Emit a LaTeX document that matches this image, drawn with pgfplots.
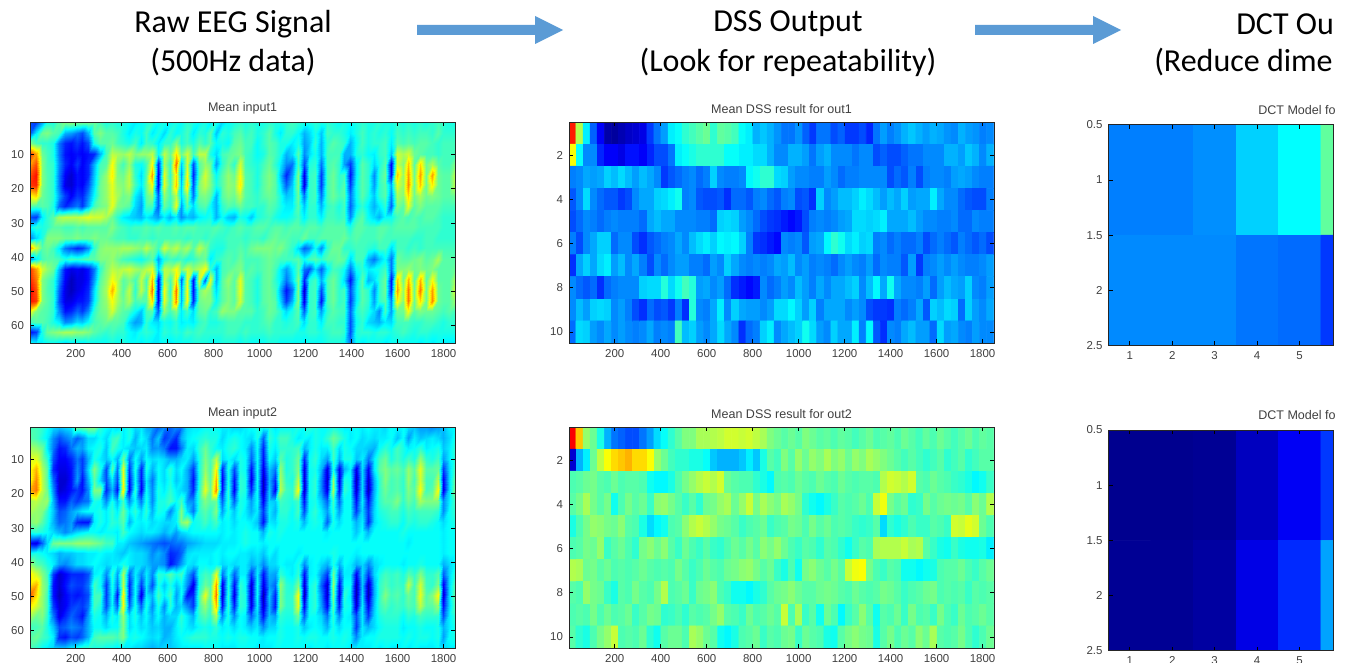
\documentclass[border=0pt]{standalone}
\usepackage{pgfplots}
\usepackage{pgfplotstable}
\usepackage{fontspec}
\setmainfont{Liberation Sans}
\newfontfamily\headfont{Carlito}
\pgfplotsset{compat=1.18}
\definecolor{arrowblue}{HTML}{5B9BD5}
\pgfplotsset{colormap={ejet}{rgb255(0)=(0,0,128) rgb255(1)=(0,0,255) rgb255(3)=(0,255,255) rgb255(5)=(255,255,0) rgb255(7)=(255,0,0) rgb255(8)=(128,0,0)},
 heat/.style={scale only axis,anchor=south west,y dir=reverse,enlargelimits=false,axis on top,tick align=inside,
  point meta min=0,point meta max=100,
  /pgf/number format/assume math mode=true,/pgf/number format/1000 sep={},
  tick label style={font=\fontsize{8.6}{9}\selectfont,text=black!75},
  title style={font=\fontsize{9.4}{10}\selectfont,text=black!75,yshift=-3.5pt},
  axis line style={black!85,line width=.7pt},
  major tick style={black,line width=.6pt},major tick length=3pt,
  xticklabel style={yshift=-1pt},yticklabel style={xshift=-1pt}},
 wide/.style={heat,width=318.75pt,height=165.75pt,xmin=1,xmax=1850,xtick={200,400,...,1800}},
 inp/.style={wide,view={0}{90},ymin=.5,ymax=65,ytick={10,20,...,60}},
 dss/.style={wide,ymin=.5,ymax=10.5,ytick={2,4,...,10}},
 dct/.style={heat,width=168.4pt,height=165.5pt,xmin=.5,xmax=5.79,ymin=.5,ymax=2.5,xtick={1,...,5},ytick={.5,1,1.5,2,2.5},ytick pos=left}}
\pgfplotstableread[header=false]{
20 18 28 40 40 46 50 52 50 50  50 48 44 40 42 40 40 38 36 38  40 42 38 40 38 40 38 42 40 38  40 36 40 34 38 40 42 40 42 40  40 42 40 40 42 44 42 40 40 42  40 42 40 38 40 38 40 42 40 40  42 40 40 42 40 42 40 42 40 42  44 42 40 40
22 36 48 50 46 44 30 28 24 20  30 46 50 46 46 44 40 36 40 38  44 36 40 34 42 38 40 44 36 42  40 46 32 42 40 44 46 42 44 40  42 46 40 36 42 42 38 30 34 40  32 44 42 42 40 36 40 44 40 42  40 42 38 44 42 44 42 44 44 42  46 42 42 42
50 44 42 42 40 24 16 14 18 14  20 40 46 46 48 44 42 40 44 36  44 42 36 42 42 50 40 44 40 46  42 46 38 40 38 46 48 44 44 38  42 46 44 40 40 36 40 28 32 42  30 42 46 44 42 30 38 44 40 42  42 44 36 46 44 46 44 46 46 44  42 44 44 44
82 72 48 44 40 24 14 12 14 12  14 16 30 44 56 54 52 56 50 52  52 56 38 56 48 66 48 58 44 56  56 40 34 44 46 48 50 44 42 38  40 46 44 40 30 34 46 26 34 40  30 44 44 44 30 30 40 42 38 36  42 44 32 58 54 58 48 46 44 44  42 44 44 44
72 80 50 44 42 26 16 12 18 12  16 30 44 46 62 50 44 52 40 38  44 62 16 54 42 76 32 58 20 46  52 48 28 42 48 42 58 44 42 40  44 48 42 36 26 24 44 20 40 42  24 44 46 42 28 18 36 46 42 34  40 46 12 58 50 68 46 66 48 54  46 44 44 50
80 86 50 45 42 24 12 8 14 12  16 32 46 52 64 50 48 56 42 34  46 72 12 60 42 66 28 62 16 46  58 50 38 46 52 48 62 46 44 40  46 50 46 32 16 28 50 10 42 44  18 44 48 42 44 14 36 46 42 26  42 48 14 68 52 72 48 72 48 72  48 46 46 56
82 84 50 45 42 24 10 8 14 12  20 34 48 52 60 52 50 56 44 36  48 62 12 60 44 68 32 66 20 50  56 50 40 46 52 50 64 46 44 40  46 50 46 36 22 32 50 10 42 44  18 44 48 42 46 18 38 46 42 28  42 46 30 60 52 74 48 68 48 64  48 46 46 56
62 66 48 45 42 28 18 12 18 16  26 38 48 52 60 54 48 50 36 30  46 52 22 52 44 56 34 52 24 48  50 46 30 46 50 48 56 46 44 42  46 48 46 40 32 34 48 24 42 44  24 44 48 44 46 24 38 46 40 32  42 46 26 54 50 66 48 54 48 50  48 46 46 48
46 44 46 45 40 22 16 20 24 18  30 44 48 50 60 50 48 46 34 28  44 44 22 48 42 60 28 46 34 44  46 38 30 42 46 44 48 44 44 42  42 46 44 40 36 36 46 32 42 42  30 42 44 40 44 22 36 42 36 30  36 42 22 50 46 60 46 50 46 46  46 44 44 44
20 18 36 42 46 54 56 56 56 58  60 58 58 54 48 42 36 34 32 30  36 32 28 36 30 36 26 32 30 36  38 40 30 38 32 30 40 38 32 40  42 44 40 38 38 40 44 36 42 42  36 44 44 42 44 26 42 46 38 34  30 38 38 44 46 44 46 44 46 46  44 42 42 42
38 42 40 42 46 46 44 44 46 44  46 46 46 46 50 46 44 42 44 44  46 44 46 44 44 46 44 46 46 44  44 44 46 44 42 44 46 44 44 46  46 44 46 46 44 46 46 44 46 46  44 46 46 46 46 40 46 46 44 44  46 46 44 46 46 46 46 44 44 44  44 42 42 42
26 34 40 50 50 50 48 48 50 48  48 50 48 48 46 44 44 42 42 44  44 42 44 44 44 44 44 42 44 44  42 44 42 42 44 44 44 42 44 44  42 46 48 46 46 44 44 48 44 44  46 46 46 46 48 44 46 44 44 44  46 44 44 44 44 44 42 42 44 44  42 42 42 42
72 58 46 48 44 36 24 20 16 18  26 42 50 52 52 52 54 54 52 50  56 50 44 58 52 56 50 54 46 56  50 42 40 40 44 44 46 44 48 50  50 50 48 50 46 42 34 22 26 38  26 42 48 48 42 42 44 44 42 40  44 44 34 44 44 42 44 42 44 44  44 44 44 44
26 36 44 46 46 44 40 44 42 44  46 46 50 50 52 48 44 42 40 38  42 46 28 40 44 42 44 40 42 46  48 36 42 44 46 44 48 44 44 44  46 48 46 44 44 44 46 38 44 46  42 46 46 48 46 34 44 44 30 24  32 38 24 48 46 46 48 50 46 48  54 46 46 46
82 72 58 52 48 30 14 10 12 10  14 24 42 50 56 54 56 58 54 52  56 60 34 56 54 62 50 58 52 56  62 42 30 44 46 48 50 44 46 44  46 48 44 36 28 36 46 24 20 34  22 36 44 42 38 24 38 42 36 38  40 44 24 50 50 52 48 50 48 50  46 46 46 48
84 76 50 46 42 26 12 6 10 10  14 28 46 52 62 56 46 50 44 56  44 70 12 56 44 66 22 60 14 58  22 60 30 46 52 46 60 46 44 40  46 48 42 36 24 34 50 16 40 44  30 44 48 42 34 14 34 46 30 34  42 48 14 68 48 70 46 70 46 62  46 46 46 54
88 80 50 45 42 22 10 6 10 12  16 34 48 54 70 56 46 56 42 56  46 76 10 62 42 76 28 62 14 48  54 50 34 46 50 46 60 46 44 40  46 48 44 30 14 24 50 8 42 44  20 44 48 42 44 20 36 46 42 26  42 48 16 72 52 76 48 76 48 72  48 46 46 58
86 82 50 46 42 20 10 10 14 14  18 36 48 52 62 54 48 54 44 46  46 66 12 60 44 74 30 62 16 48  50 50 38 46 50 46 58 46 44 40  46 48 46 34 18 30 50 10 42 44  14 44 48 42 44 18 36 46 42 28  42 46 26 64 50 76 48 66 48 74  48 46 46 52
62 50 46 45 42 26 14 16 22 18  26 42 48 50 58 50 46 44 38 32  44 46 22 52 44 50 36 44 34 46  48 42 44 52 50 50 46 46 46 42  44 48 46 42 34 40 46 22 42 44  28 42 46 44 44 22 40 44 40 34  26 44 28 48 48 62 46 50 48 48  46 44 46 44
44 46 46 44 40 36 26 28 34 32  38 44 46 48 46 46 44 34 28 30  42 36 34 40 38 42 36 38 36 42  44 40 40 42 44 44 44 42 42 42  44 46 42 42 40 42 44 34 42 42  36 44 44 42 42 20 38 42 34 32  30 36 34 44 44 44 42 42 44 44  42 40 42 42
14 18 40 48 50 52 54 54 52 52  50 46 44 42 44 42 42 38 36 40  42 40 36 42 40 42 40 44 42 44  42 42 42 42 44 44 42 44 42 42  42 44 42 42 42 42 40 40 42 42  40 42 44 44 42 20 40 42 42 40  42 42 40 42 44 42 40 42 42 40  40 40 40 40
38 36 36 38 38 36 34 36 36 36  38 38 38 38 40 38 40 38 38 36  38 36 36 38 36 38 38 38 40 40  40 38 38 40 40 40 38 40 38 38  38 40 40 38 38 38 38 36 38 38  38 40 40 40 38 24 38 36 38 38  38 36 38 38 38 38 38 36 38 36  38 36 36 36
}\inputone
\pgfplotstableread[header=false]{
44 44 42 38 34 32 34 36 48 48  50 50 42 38 36 34 36 40 34 36  30 28 22 26 22 26 24 34 36 36  38 38 38 36 36 34 34 36 38 40  38 40 36 38 38 38 40 38 42 40  38 38 40 38 36 36 38 36 38 36  36 34 38 36 38 34 32 28 28 26  28 30 36 38
46 44 40 36 26 20 24 28 22 26  34 34 38 34 42 44 36 40 30 38  34 24 32 18 22 16 30 36 38 40  42 40 40 34 38 40 38 36 34 40  22 42 38 44 44 40 36 38 36 40  38 42 48 44 40 36 38 34 36 34  36 36 38 32 38 28 36 32 34 36  34 30 34 40
54 52 48 36 24 14 16 24 30 28  36 38 40 32 44 40 36 34 32 34  36 26 28 24 14 14 24 36 34 42  48 42 38 36 40 42 38 36 26 38  16 40 36 42 42 42 44 30 36 40  36 36 44 34 40 38 34 34 32 30  38 42 38 44 40 36 38 42 36 38  40 32 36 42
60 60 50 42 20 12 12 16 24 18  30 40 36 32 38 30 48 24 38 28  38 34 36 34 30 30 34 36 28 40  50 44 56 34 38 34 40 38 22 38  14 38 32 46 40 42 48 16 38 42  34 28 44 30 40 40 32 36 24 36  44 48 40 44 40 44 40 52 42 40  44 28 36 42
62 70 54 46 16 10 10 14 26 18  34 50 40 20 46 24 60 18 40 16  40 30 38 34 42 34 38 30 18 40  52 44 64 16 40 20 40 38 14 38  10 32 24 52 40 42 50 10 38 40  30 10 40 12 30 36 10 34 12 36  46 50 46 48 44 52 46 60 46 46  48 18 34 44
62 74 56 46 22 8 8 14 28 14  30 46 34 20 36 20 62 14 38 14  36 24 38 34 40 32 36 30 14 40  56 46 70 12 40 14 42 40 10 38  6 30 16 54 42 40 56 8 38 42  26 8 52 10 40 38 6 34 8 30  42 50 44 46 42 52 44 58 44 44  56 12 34 48
70 76 56 48 26 8 10 14 18 14  26 50 50 16 30 14 64 12 42 12  38 26 40 36 42 36 34 30 16 42  60 48 74 14 42 12 42 40 16 38  6 32 12 56 44 42 62 8 38 42  26 10 54 14 42 38 8 34 6 30  42 48 44 46 42 50 46 62 44 46  62 10 34 50
54 56 52 52 30 14 14 22 18 22  24 40 38 26 40 30 44 26 38 24  40 26 40 40 44 38 44 28 26 42  50 46 48 22 42 22 40 38 28 38  12 34 32 44 42 40 44 14 38 40  32 22 44 22 38 38 14 36 14 32  42 46 46 50 42 48 44 54 50 50  50 26 36 44
54 52 50 42 32 20 22 28 32 36  38 38 40 36 42 36 48 36 42 34  42 30 40 38 26 36 50 34 24 42  46 42 50 28 40 32 40 36 30 36  18 36 30 42 42 38 44 20 38 42  36 28 42 28 38 38 18 34 18 34  40 42 44 44 40 44 42 44 44 44  42 26 38 42
50 52 46 40 30 22 24 28 16 14  14 36 40 36 42 40 46 30 38 36  38 34 36 34 34 36 50 54 38 40  44 40 44 36 38 34 38 38 36 32  14 36 34 40 40 38 40 30 38 40  38 22 40 34 38 38 30 36 16 34  38 40 42 42 38 42 40 42 42 40  38 34 38 40
40 42 40 38 34 30 26 30 34 36  38 38 36 38 38 36 44 38 36 34  36 36 34 30 34 28 34 36 38 38  38 38 38 36 38 36 38 40 38 38  30 40 38 40 38 38 38 38 38 38  38 36 38 38 38 38 32 38 30 38  38 38 38 38 40 38 38 38 38 38  38 36 38 38
12 10 22 34 48 50 50 50 52 52  52 50 48 44 44 36 36 32 30 28  26 24 22 20 22 24 24 28 30 32  34 34 34 36 36 36 38 40 38 38  36 38 38 38 38 38 38 38 38 38  38 38 38 38 38 38 38 38 38 38  38 38 38 38 38 36 38 38 38 38  38 36 38 38
38 40 38 36 34 30 32 32 34 34  36 36 38 36 36 34 32 36 34 34  32 26 30 26 16 18 22 34 36 36  36 36 38 36 38 38 36 36 34 36  32 38 34 38 38 38 36 38 38 38  38 38 40 38 38 38 36 38 38 38  38 38 38 38 38 38 38 38 38 38  38 36 38 38
52 46 44 40 36 28 26 30 34 34  36 38 36 34 36 36 40 36 34 34  32 28 28 26 14 20 28 36 34 38  38 36 38 34 36 34 36 36 30 34  26 34 34 38 36 36 40 26 36 38  34 30 40 30 38 36 30 34 26 34  36 38 38 38 36 38 38 40 38 38  38 30 34 38
64 58 50 44 18 8 12 16 16 16  20 36 38 26 42 28 54 22 36 26  36 26 42 40 46 40 44 30 20 40  44 42 60 24 38 22 36 36 18 36  14 30 28 42 38 36 42 14 36 38  28 18 48 22 36 36 12 34 18 34  40 44 42 44 40 46 42 50 42 42  46 22 34 42
66 70 52 46 14 8 14 20 18 18  24 44 38 18 40 24 56 16 38 18  36 20 40 32 40 32 38 26 10 40  48 44 72 10 40 14 42 38 8 38  10 28 22 52 42 40 50 8 38 42  22 8 52 12 38 38 6 32 6 30  42 46 42 44 42 56 44 58 44 42  50 12 34 46
78 66 52 44 14 6 12 16 14 16  20 44 44 18 38 14 64 16 38 10  36 30 44 36 44 28 38 14 16 44  60 46 76 8 42 10 42 40 8 38  5 32 16 50 42 42 62 6 38 42  26 8 50 10 42 36 5 34 5 30  42 50 44 46 42 48 44 60 46 50  62 8 34 48
64 58 52 44 18 9 12 18 20 18  24 44 40 20 38 22 62 22 40 22  40 26 40 26 42 30 34 26 18 44  52 44 68 14 42 16 42 40 10 36  8 30 14 50 42 42 60 12 38 42  28 12 46 14 40 38 8 36 12 32  42 46 42 44 42 46 44 56 46 46  52 14 34 46
54 48 50 42 24 10 16 22 18 14  28 40 38 30 40 36 52 34 40 32  38 30 38 30 34 34 42 36 30 42  46 42 54 26 40 26 38 36 22 34  14 32 28 42 40 40 48 22 38 38  34 24 42 26 38 36 20 36 18 34  40 42 42 42 38 42 40 44 42 42  42 20 36 42
44 44 46 40 32 20 22 26 24 22  30 38 38 34 38 38 50 34 38 34  36 32 34 30 30 36 40 36 34 38  40 38 42 36 38 34 38 36 32 36  26 34 34 40 38 38 40 32 36 38  36 30 40 34 38 38 18 36 30 34  38 40 40 40 36 38 38 40 38 38  40 30 36 40
46 48 44 42 36 16 14 20 18 22  30 44 46 46 46 44 50 38 40 38  36 34 36 30 32 36 38 40 42 42  42 40 40 38 40 38 40 40 38 38  36 38 38 40 38 38 40 38 40 40  38 38 40 38 40 38 26 36 38 38  40 40 40 40 38 40 38 40 40 38  40 28 38 40
44 42 38 36 34 32 32 36 40 42  42 40 40 38 38 36 36 36 34 34  32 30 32 34 32 34 36 36 36 36  38 38 38 36 36 36 38 38 38 36  36 36 38 38 38 38 38 38 36 38  38 36 38 38 38 36 36 36 36 38  36 38 36 36 38 36 38 36 36 36  38 34 36 36
}\inputtwo
\pgfplotstableread[header=false]{
85 55 36 22 12 4 3 5 7 8  10 18 24 28 36 38 42 44 46 48  42 47 46 44 38 36 30 32 30 27  24 24 27 22 18 24 24 20 22 18  18 20 16 24 28 25 27 30 32 30  28 30 29 27 26 30 28 27 25 26
62 38 26 26 16 12 12 10 14 14  12 16 20 20 24 36 38 40 42 42  42 42 38 38 36 36 34 34 30 26  26 30 30 28 24 28 30 26 26 26  24 26 26 20 22 20 20 22 24 24  26 26 26 30 30 28 32 30 26 30
25 26 29 28 29 33 31 34 31 28  31 29 26 18 21 23 25 26 23 25  33 26 25 25 26 37 39 42 42 34  33 28 26 26 25 25 28 26 23 25  25 26 26 26 26 20 23 21 25 20  25 26 26 25 28 29 28 26 25 25
21 26 34 26 23 21 21 18 20 26  29 29 33 34 36 39 25 26 21 20  20 21 17 23 23 21 25 26 23 21  25 26 20 21 17 33 26 28 31 31  33 36 34 31 28 31 29 33 28 29  29 36 29 26 26 23 21 20 20 25
20 23 26 25 23 25 26 25 25 25  23 29 31 29 29 26 26 26 25 25  23 33 34 33 28 26 23 20 18 17  15 13 15 20 25 26 25 26 28 29  34 34 33 34 36 29 29 29 31 28  26 26 25 25 26 23 23 26 25 25
25 20 26 29 33 33 23 26 26 20  17 21 23 25 26 29 26 31 34 36  33 37 36 37 33 25 18 17 15 13  26 25 26 21 28 29 37 42 39 34  36 33 34 25 26 23 25 23 23 25  20 23 25 23 21 25 23 21 23 20
17 29 33 29 34 36 28 31 26 29  25 20 26 23 26 28 28 25 25 23  28 26 33 29 26 25 26 25 26 29  28 31 26 28 25 26 25 23 26 28  26 25 28 23 26 25 25 21 28 18  25 26 28 26 28 26 25 25 26 28
26 23 21 23 17 23 25 26 26 26  33 34 34 41 34 39 44 41 28 29  26 28 23 17 15 13 15 26 23 25  28 26 31 28 25 29 26 29 29 31  33 26 31 37 29 39 29 26 26 25  28 23 28 31 29 28 33 26 25 28
26 31 28 33 34 33 26 28 25 20  17 23 20 21 18 25 17 41 26 25  29 36 26 33 29 28 28 26 28 34  34 37 33 28 33 25 29 29 29 26  28 26 20 18 18 17 25 23 25 29  21 33 31 34 33 23 33 28 26 29
23 34 33 28 26 29 26 28 26 25  26 29 25 26 25 44 31 33 28 26  29 34 29 26 17 23 25 33 36 26  29 31 33 39 34 28 26 33 29 29  36 25 37 21 17 26 25 29 31 28  28 23 34 28 29 26 25 28 26 26
}\dssone
\pgfplotstableread[header=false]{
88 68 52 48 40 30 24 22 20 20  24 28 34 38 42 46 50 50 54 54  55 56 58 58 57 58 56 54 50 48  46 48 46 50 48 46 47 45 47 46  44 46 48 45 46 47 45 48 46 44  47 45 48 46 44 46 48 45 47 46
8 30 36 48 56 62 66 68 70 66  66 62 52 48 44 42 42 40 40 38  32 30 30 30 32 36 32 40 46 44  50 46 52 48 52 50 54 50 52 48  52 50 54 52 50 48 46 44 46 44  42 44 46 42 44 46 42 44 46 46
45 46 48 49 46 45 48 45 46 46  45 39 37 37 40 45 49 52 55 57  55 58 48 46 45 45 42 40 37 45  46 45 48 46 45 48 46 45 48 46  45 46 46 45 55 58 57 55 58 46  45 48 46 45 43 42 40 37 39 43
46 49 54 49 46 49 39 45 49 46  48 43 51 52 49 46 43 46 42 48  49 52 54 48 52 57 49 54 51 49  54 52 49 42 39 37 40 43 46 45  46 48 45 57 61 49 46 48 42 43  49 46 48 49 48 49 46 51 48 55
40 45 49 52 51 49 48 51 46 45  40 34 37 39 45 46 51 55 57 55  52 49 48 46 43 45 46 48 43 45  46 49 48 45 49 46 48 45 46 45  43 42 43 46 34 42 40 42 45 43  43 46 45 43 58 57 60 58 48 45
45 46 49 48 52 43 46 48 45 42  49 51 48 51 46 43 48 45 43 46  43 42 45 48 46 49 46 51 49 52  48 45 43 46 45 42 46 45 42 39  43 46 45 54 55 55 55 57 54 55  46 43 40 39 43 40 39 39 40 36
55 54 48 49 46 48 45 46 45 46  48 46 45 46 45 49 46 43 45 48  46 45 48 49 51 52 49 46 48 43  40 45 39 49 51 48 46 49 46 57  61 62 49 45 43 46 45 39 39 37  39 40 45 46 46 48 45 43 46 48
46 45 52 49 48 43 40 46 45 49  46 45 49 55 45 46 48 43 48 49  51 45 43 39 39 37 40 42 46 48  49 51 48 46 46 48 49 48 46 45  48 46 45 46 49 48 46 43 45 46  48 49 45 46 45 46 43 46 45 46
45 46 45 49 45 48 45 46 48 43  46 49 48 42 43 45 42 46 45 46  49 52 46 45 43 48 45 46 48 46  57 45 54 43 46 39 48 45 37 43  46 51 46 39 46 45 48 43 49 45  46 43 49 45 43 48 45 46 48 46
46 42 40 45 49 52 57 45 46 45  48 42 39 46 48 48 45 54 52 48  46 39 37 40 45 46 48 43 46 45  48 49 43 48 46 45 40 39 46 49  51 49 48 40 46 49 45 48 46 51  48 54 46 45 46 49 45 42 45 48
}\dsstwo
% builds the coordinate list of a table: #1 table, #2 rows, #3 cols
\newcommand\collect[5]{%
 \gdef\cbuf{}%
 \pgfmathtruncatemacro\rmax{#2-1}\pgfmathtruncatemacro\cmax{#3-1}%
 \pgfplotsforeachungrouped \r in {0,...,\rmax}{%
  \pgfplotsforeachungrouped \c in {0,...,\cmax}{%
   \pgfplotstablegetelem{\r}{[index]\c}\of#1%
   \pgfmathsetmacro\xx{#4}\pgfmathsetmacro\yy{#5}%
   \xdef\cbuf{\cbuf (\xx,\yy) [\pgfplotsretval]}%
  }}}
\newcommand\inputplot[1]{\collect{#1}{22}{74}{1+25.33*\c}{.5+64.5*\r/21}%
 \edef\tmp{\noexpand\addplot[surf,shader=interp,mesh/cols=74,point meta=explicit] coordinates {\cbuf};}\tmp}
\newcommand\dssplot[1]{\collect{#1}{10}{60}{16+30.8*\c}{\r+1}%
 \edef\tmp{\noexpand\addplot[matrix plot*,mesh/cols=60,point meta=explicit] coordinates {\cbuf};}\tmp}
\begin{document}
\begin{tikzpicture}[x=.75pt,y=-.75pt]
\path[use as bounding box] (0,0) rectangle (1349,663);
\begin{axis}[inp,at={(22.5pt,-257.25pt)},title={Mean input1}]
\inputplot{\inputone}
\end{axis}
\begin{axis}[inp,at={(22.5pt,-486pt)},title={Mean input2}]
\inputplot{\inputtwo}
\end{axis}
\begin{axis}[dss,at={(426.75pt,-257.25pt)},title={Mean DSS result for out1}]
\dssplot{\dssone}
\end{axis}
\begin{axis}[dss,at={(426.75pt,-486pt)},title={Mean DSS result for out2}]
\dssplot{\dsstwo}
\end{axis}
\begin{axis}[dct,at={(831.4pt,-259.1pt)}]
\addplot[matrix plot*,mesh/cols=6,point meta=explicit] coordinates {
(1,1)[25](2,1)[25](3,1)[26.5](4,1)[33](5,1)[37.5](6,1)[47]
(1,2)[26](2,2)[26](3,2)[26](4,2)[24](5,2)[23](6,2)[18]};
\end{axis}
\begin{axis}[dct,at={(831.4pt,-488pt)}]
\addplot[matrix plot*,mesh/cols=6,point meta=explicit] coordinates {
(1,1)[1.5](2,1)[1.5](3,1)[2](4,1)[6.2](5,1)[11.5](6,1)[18]
(1,2)[2](2,2)[2](3,2)[3.2](4,2)[10](5,2)[16.5](6,2)[28.5]};
\end{axis}
\fill[white] (1333.5,100) rectangle (1349,663);
\node[anchor=west,inner sep=0pt,font=\fontsize{9.4}{10}\selectfont,text=black!75] at (1258,110.5) {DCT Model fo};
\node[anchor=west,inner sep=0pt,font=\fontsize{9.4}{10}\selectfont,text=black!75] at (1258,415.5) {DCT Model fo};
\foreach \t/\x/\y in {Raw EEG Signal/233/24,(500Hz data)/233/62,DSS Output/788/24,(Look for repeatability)/788/62}
 \node[font=\headfont\fontsize{24}{24}\selectfont] at (\x,\y) {\t};
\node[anchor=west,inner sep=0pt,font=\headfont\fontsize{24}{24}\selectfont] at (1236,24) {DCT Ou};
\node[anchor=west,inner sep=0pt,font=\headfont\fontsize{24}{24}\selectfont] at (1154,62) {(Reduce dime};
\foreach \o in {417,975}
 \fill[arrowblue] (\o,25) -- (\o+118,25) -- (\o+118,16) -- (\o+146,30) -- (\o+118,44) -- (\o+118,35) -- (\o,35) -- cycle;
\end{tikzpicture}
\end{document}
